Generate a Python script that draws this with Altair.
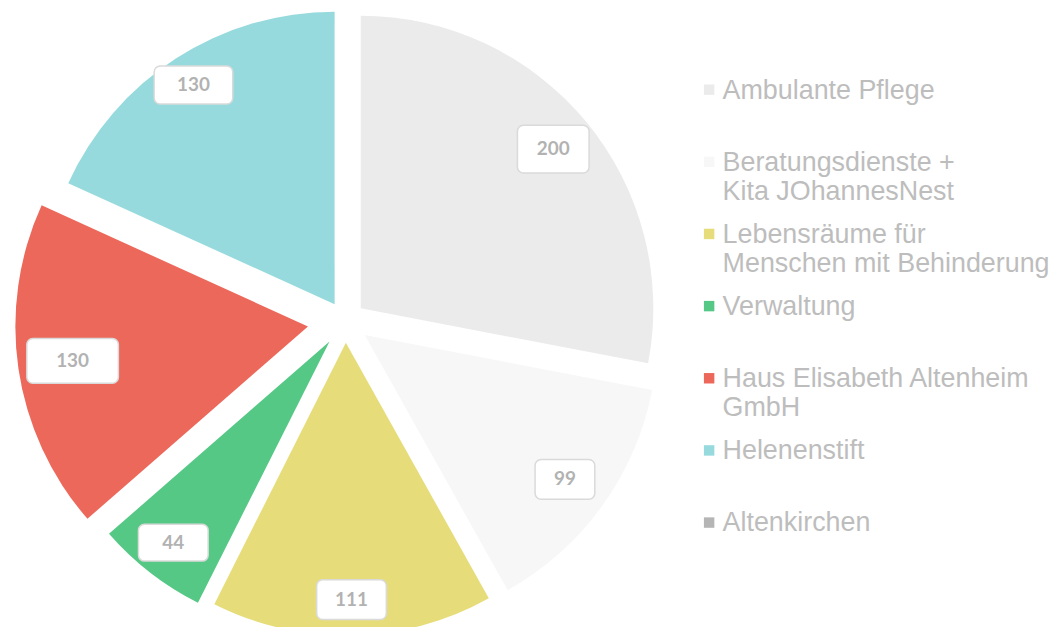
import altair as alt
import pandas as pd

categories = [
    "Ambulante Pflege",
    "Beratungsdienste +\nKita JOhannesNest",
    "Lebensräume für\nMenschen mit Behinderung",
    "Verwaltung",
    "Haus Elisabeth Altenheim\nGmbH",
    "Helenenstift",
    "Altenkirchen",
]
values = [200, 99, 111, 44, 130, 130, 0]

# styling (not data)
colors = ["#EBEBEB", "#F7F7F7", "#E7DC7A", "#54C884", "#EC685A", "#96DADD", "#B5B5B5"]
explode = [20, 24, 22, 26, 38, 20, 0]          # slice pull-out, px
label_r = [251, 248, 258, 256, 239, 262, 0]    # label distance from slice tip, px
box_w = [72, 60, 70, 70, 92, 79, 0]
box_h = [48, 40, 40, 37, 45, 38, 0]

TOTAL = sum(values)
CX, CY, R = 339, 313, 294

df = pd.DataFrame({
    "cat": categories,
    "value": values,
    "explode": explode,
    "lr": label_r,
    "bw": box_w,
    "bh": box_h,
    "order": list(range(len(categories))),
})

base = alt.Chart(df).transform_window(
    cum="sum(value)", sort=[alt.SortField("order")], frame=[None, 0]
).transform_calculate(
    start="datum.cum - datum.value",
    mid=f"(datum.cum - datum.value / 2) / {TOTAL} * 2 * PI",
).transform_calculate(
    px=f"{CX} + datum.explode * sin(datum.mid)",
    py=f"{CY} - datum.explode * cos(datum.mid)",
    lx=f"{CX} + (datum.explode + datum.lr) * sin(datum.mid)",
    ly=f"{CY} - (datum.explode + datum.lr) * cos(datum.mid)",
).transform_calculate(
    bx1="datum.lx - datum.bw / 2", bx2="datum.lx + datum.bw / 2",
    by1="datum.ly - datum.bh / 2", by2="datum.ly + datum.bh / 2",
)

arcs = base.mark_arc(radius=R).encode(
    x=alt.X("px:Q", scale=None),
    y=alt.Y("py:Q", scale=None),
    theta=alt.Theta("start:Q", scale=alt.Scale(domain=[0, TOTAL], range=[0, 6.283185307179586])),
    theta2="cum:Q",
    color=alt.Color(
        "cat:N",
        scale=alt.Scale(domain=categories, range=colors),
        legend=alt.Legend(
            title=None,
            orient="none",
            legendX=691,
            legendY=55,
            labelFontSize=27,
            labelFont="Liberation Sans",
            labelColor="#BDBDBD",
            symbolType="M-1,1.3H1V3.3H-1Z",
            symbolSize=110,
            symbolStrokeWidth=0,
            labelOffset=0,
            rowPadding=3.5,
            gridAlign="all",
            labelLimit=0,
            labelBaseline="top",
            labelExpr="split(datum.label, '\\n')",
        ),
    ),
)

boxes = base.transform_filter("datum.value > 0").mark_rect(
    cornerRadius=6, fill="white", stroke="#DADADA", strokeWidth=1.5
).encode(
    x=alt.X("bx1:Q", scale=None),
    x2="bx2:Q",
    y=alt.Y("by1:Q", scale=None),
    y2="by2:Q",
)

texts = base.transform_filter("datum.value > 0").mark_text(
    font="Lato", fontWeight="bold", fontSize=19, color="#B2B2B2",
    align="center", baseline="middle",
).encode(
    x=alt.X("lx:Q", scale=None),
    y=alt.Y("ly:Q", scale=None),
    text="value:Q",
)

chart = alt.layer(arcs, boxes, texts).properties(
    width=1046, height=619, padding=0, autosize="none", background="white"
).configure_view(stroke=None)

chart.save("out.html", embed_options={"renderer": "svg", "actions": False})
